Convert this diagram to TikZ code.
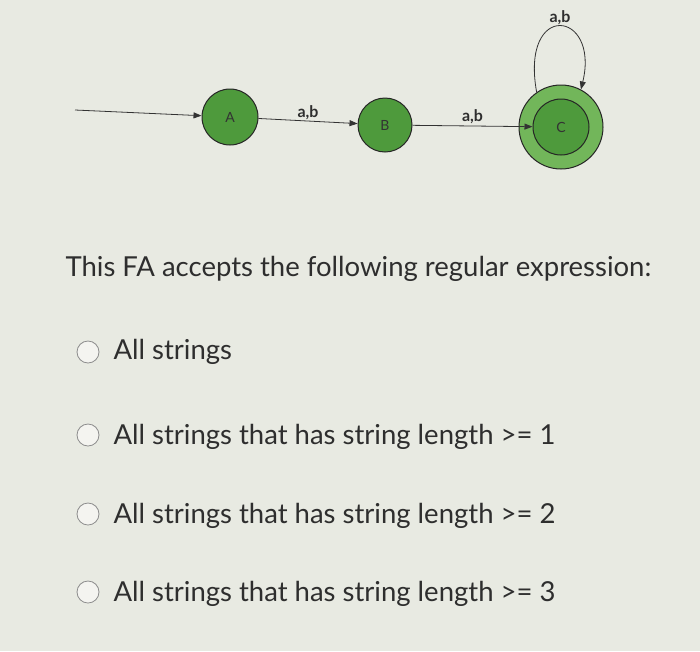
\documentclass[tikz,border=0pt]{standalone}
\usepackage{fontspec}
\setmainfont{Lato}
\usetikzlibrary{arrows.meta}
\definecolor{bg}{HTML}{E8EAE2}
\definecolor{txt}{HTML}{2E2E2E}
\definecolor{gA}{HTML}{4E9A3C}
\definecolor{gC}{HTML}{72B65A}
\definecolor{radio}{HTML}{F4F4F0}
\tikzset{
  st/.style={circle,draw=black!85,line width=1pt,fill=gA,minimum size=56pt,inner sep=0pt,font=\fontsize{14}{16}\selectfont,text=black!80},
  edge/.style={draw=black!80,line width=0.8pt,-{Triangle[length=8pt,width=6pt]}},
  lbl/.style={font=\bfseries\fontsize{16}{18}\selectfont,text=txt},
  qtext/.style={anchor=west,font=\fontsize{27.5}{30}\selectfont,text=txt},
  radiob/.style={circle,draw=black!45,line width=0.8pt,fill=radio,minimum size=22pt,inner sep=0pt}
}
\begin{document}
\begin{tikzpicture}[x=1pt,y=-1pt]
\fill[bg] (0,0) rectangle (700,651);
\useasboundingbox (0,0) rectangle (700,651);
\node[st] (A) at (230,117) {A};
\node[st,minimum size=54pt] (B) at (385,125) {B};
\node[circle,draw=black!85,line width=1pt,fill=gC,minimum size=84pt,inner sep=0pt] (Co) at (561,127) {};
\node[st] (C) at (561,127) {C};
\coordinate (start) at (75,110);
\draw[edge] (start) -- (A);
\draw[edge] (A) -- node[lbl,above,yshift=-2pt]{a,b} (B);
\draw[edge] (B) -- node[lbl,above,yshift=-2pt]{a,b} (C);
\draw[edge] (Co.125) .. controls (520,0) and (600,10) .. (Co.62);
\node[lbl] (loopl) at (560,18) {a,b};
\node[qtext] (q) at (62,269) {This FA accepts the following regular expression:};
\node[radiob] (r1) at (88,352) {};
\node[qtext] (o1) at (110,352) {All strings};
\node[radiob] (r2) at (88,435) {};
\node[qtext] (o2) at (110,437) {All strings that has string length >= 1};
\node[radiob] (r3) at (88,514) {};
\node[qtext] (o3) at (110,516) {All strings that has string length >= 2};
\node[radiob] (r4) at (88,592) {};
\node[qtext] (o4) at (110,594) {All strings that has string length >= 3};
\end{tikzpicture}
\end{document}
